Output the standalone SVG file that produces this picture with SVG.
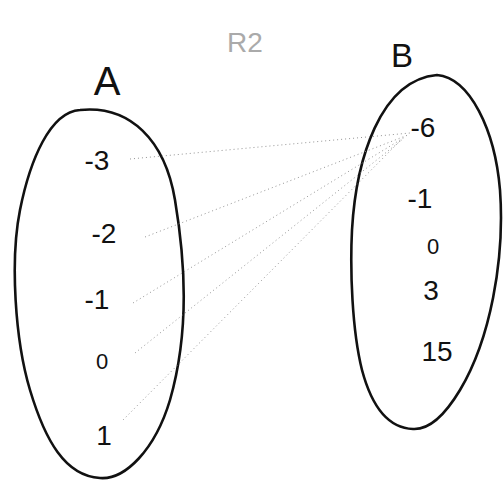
<svg xmlns="http://www.w3.org/2000/svg" width="504" height="480" viewBox="0 0 504 480">
<style>
.set{fill:none;stroke:#111;stroke-width:2.6;stroke-linecap:round;stroke-linejoin:round}
.t{font-family:"Liberation Sans","DejaVu Sans",sans-serif;fill:#111;text-anchor:middle}
.n{font-size:28px}
.z{font-size:22px}
.lab{font-size:40px}
.title{font-size:28px;fill:#aaa}
.c{fill:none;stroke:#888;stroke-width:0.9;stroke-dasharray:1 3}
</style>
<rect width="504" height="480" fill="#fff"/>
<text class="t title" x="245" y="52">R2</text>
<g id="A">
<text class="t lab" x="107" y="95">A</text>
<path class="set" d="M80,110 C130,105 165,140 175,200 C185,260 190,330 170,400 C155,450 125,480 100,478 C65,476 45,440 30,390 C15,340 10,260 20,210 C30,160 50,112 80,110 Z"/>
<text class="t n" x="97" y="170">-3</text>
<text class="t n" x="104" y="243">-2</text>
<text class="t n" x="97" y="309">-1</text>
<text class="t z" x="102" y="369">0</text>
<text class="t n" x="104" y="445">1</text>
</g>
<g id="B">
<text class="t lab" x="402" y="67" style="font-size:33px">B</text>
<path class="set" d="M437,75 C470,78 495,130 500,190 C505,260 490,340 460,390 C445,415 430,430 413,429 C385,428 370,400 362,370 C352,330 350,270 352,230 C356,160 380,80 437,75 Z"/>
<text class="t n" x="423" y="137">-6</text>
<text class="t n" x="420" y="208">-1</text>
<text class="t z" x="433" y="254">0</text>
<text class="t n" x="431" y="300">3</text>
<text class="t n" x="437" y="361">15</text>
</g>
<g id="connectors">
<line class="c" x1="130" y1="159" x2="410" y2="133"/>
<line class="c" x1="145" y1="237" x2="408" y2="135"/>
<line class="c" x1="133" y1="303" x2="405" y2="137"/>
<line class="c" x1="135" y1="353" x2="403" y2="139"/>
<line class="c" x1="123" y1="420" x2="400" y2="141"/>
</g>
</svg>
